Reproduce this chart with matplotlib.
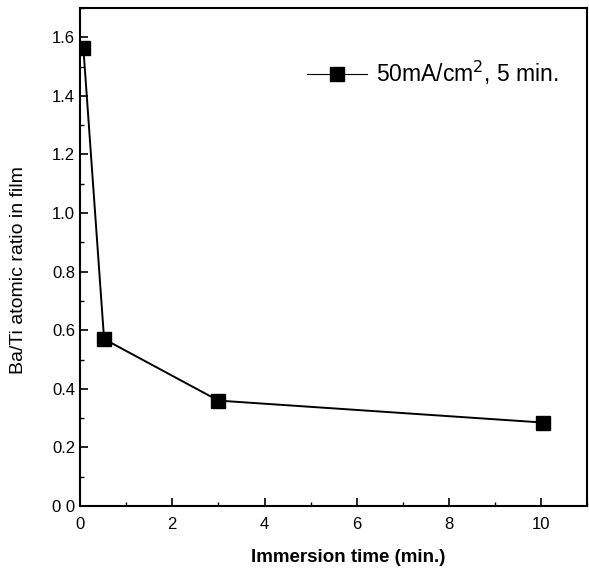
import numpy as np
import matplotlib.pyplot as plt
from matplotlib.ticker import MultipleLocator

plt.rcParams['font.family'] = ['Liberation Sans', 'DejaVu Sans']

# data
time_min = [0.07, 0.52, 3.0, 10.05]
ba_ti = [1.565, 0.57, 0.36, 0.285]
series_label = '50mA/cm$^2$, 5 min.'
ytick_labels = ['0 0', '0.2', '0.4', '0.6', '0.8', '1.0', '1.2', '1.4', '1.6']

fig = plt.figure(figsize=(5.89, 5.68), dpi=100)
ax = fig.add_axes([0.136, 0.109, 0.861, 0.877])

ax.plot(time_min, ba_ti, color='black', lw=1.4, marker='s', ms=10.5,
        label=series_label)

ax.set_xlim(0, 11)
ax.set_ylim(0, 1.7)
ax.xaxis.set_major_locator(MultipleLocator(2))
ax.xaxis.set_minor_locator(MultipleLocator(1))
ax.yaxis.set_minor_locator(MultipleLocator(0.1))
ax.set_yticks(np.arange(0, 1.61, 0.2))
ax.set_yticklabels(ytick_labels)
ax.tick_params(which='both', direction='in')
ax.tick_params(axis='y', labelsize=12)
ax.tick_params(axis='x', labelsize=12, pad=8)
ax.tick_params(which='major', length=6, width=1.2)
ax.tick_params(which='minor', length=3, width=1.0)
for s in ax.spines.values():
    s.set_linewidth(1.5)

ax.set_xlabel('Immersion time (min.)', fontsize=13.5, fontweight='bold')
ax.set_ylabel('Ba/Ti atomic ratio in film', fontsize=14)
ax.xaxis.set_label_coords(0.529, -0.086)
ax.yaxis.set_label_coords(-0.105, 0.474)

leg = ax.legend(loc='center left', bbox_to_anchor=(0.448, 0.869), frameon=False,
                fontsize=16.5, handlelength=2.6, handletextpad=0.4,
                borderaxespad=0, borderpad=0)
leg.get_lines()[0].set_linewidth(0.8)

fig.savefig('out.png', dpi=100)
